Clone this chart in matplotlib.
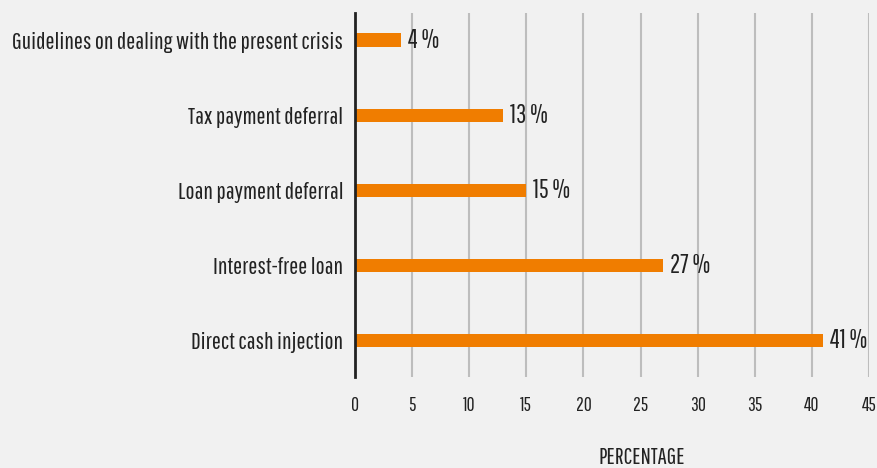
import matplotlib
matplotlib.use("Agg")
import matplotlib.pyplot as plt

categories = [
    "Guidelines on dealing with the present crisis",
    "Tax payment deferral",
    "Loan payment deferral",
    "Interest-free loan",
    "Direct cash injection",
]
values = [4, 13, 15, 27, 41]
x_ticks = [0, 5, 10, 15, 20, 25, 30, 35, 40, 45]
x_label = "PERCENTAGE"

plt.rcParams["font.family"] = ["Pathway Gothic One", "Roboto Condensed", "DejaVu Sans"]

bg = "#f1f1f1"
bar_color = "#f07d00"
text_color = "#222222"

W, H = 877, 468
fig = plt.figure(figsize=(W / 100, H / 100), dpi=100, facecolor=bg)
renderer = fig.canvas.get_renderer()


def fit_size(text, width_px, base=16):
    """Font size at which `text` spans `width_px` pixels."""
    t = fig.text(0, 0, text, fontsize=base)
    w = t.get_window_extent(renderer).width
    t.remove()
    return base * width_px / w


cat_size = fit_size(categories[0], 333)
val_size = fit_size("41 %", 37)
tick_size = fit_size("10", 12.5)
xlabel_size = fit_size(x_label, 86)

ax = fig.add_axes([355 / W, 1 - 377 / H, (869 - 355) / W, (377 - 13) / H])
ax.set_facecolor(bg)

pos = list(range(len(categories)))
ax.barh(pos, values, height=0.175, color=bar_color, zorder=3)
ax.set_ylim(4.48, -0.36)
ax.set_xlim(0, 45)

for p, v in zip(pos, values):
    ax.annotate(f"{v} %", (v, p), xytext=(5, 0), textcoords="offset points",
                ha="left", va="center", fontsize=val_size, color=text_color, zorder=4)

ax.set_yticks(pos)
ax.set_yticklabels(categories, fontsize=cat_size, color=text_color)
ax.set_xticks(x_ticks)
ax.set_xticklabels([str(t) for t in x_ticks], fontsize=tick_size, color=text_color)
ax.tick_params(axis="y", length=0, pad=8.5)
ax.tick_params(axis="x", length=0, pad=14)

ax.grid(axis="x", color="#bdbdbd", linewidth=1.5, zorder=1)
ax.grid(axis="y", visible=False)
for s in ["top", "right", "bottom"]:
    ax.spines[s].set_visible(False)
ax.spines["left"].set_color("#222222")
ax.spines["left"].set_linewidth(2)
ax.spines["left"].set_zorder(5)

fig.text(642 / W, 1 - 457 / H, x_label, ha="center", va="center",
         fontsize=xlabel_size, color=text_color)

fig.savefig("out.png", dpi=100, facecolor=bg)
